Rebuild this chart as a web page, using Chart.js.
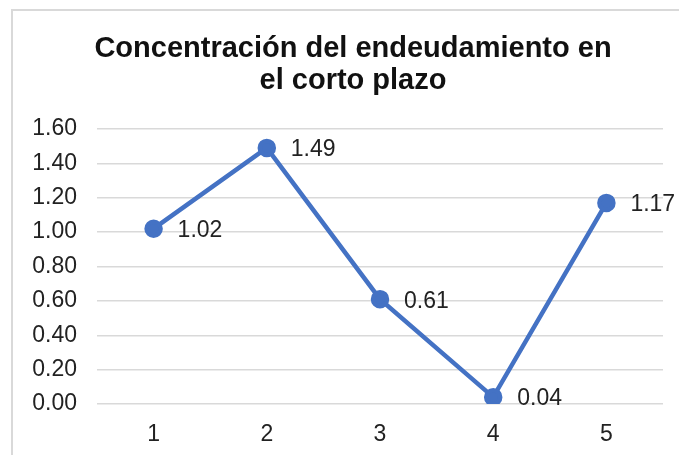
<!DOCTYPE html>
<html lang="es">
<head>
    <meta charset="UTF-8">
    <title>Concentración del endeudamiento en el corto plazo</title>
    <script src="https://cdn.jsdelivr.net/npm/chart.js"></script>
    <style>
        body { margin: 0; background: #fff; }
        #wrap { position: relative; width: 679px; height: 455px; overflow: hidden; }
        #frame { position: absolute; left: 11px; top: 9px; width: 700px; height: 480px; border: 2px solid #d9d9d9; box-sizing: border-box; }
        canvas { position: absolute; left: 0; top: 0; }
    </style>
</head>
<body>
    <div id="wrap">
        <div id="frame"></div>
        <canvas id="chart" width="679" height="455"></canvas>
    </div>

    <script>
        // Chart data
        const periods = ['1', '2', '3', '4', '5'];
        const ratios = [1.02, 1.49, 0.61, 0.04, 1.17];
        const titleLines = ['Concentración del endeudamiento en', 'el corto plazo'];

        const fontFamily = '"Liberation Sans", Arial, sans-serif';

        // title is centred a bit right of the canvas centre, like the original
        const titleBlock = {
            id: 'titleBlock',
            afterDraw(chart) {
                const ctx = chart.ctx;
                ctx.save();
                ctx.font = 'bold 29px ' + fontFamily;
                ctx.fillStyle = '#111';
                ctx.textAlign = 'center';
                ctx.textBaseline = 'alphabetic';
                titleLines.forEach((line, i) => ctx.fillText(line, 353, 57 + i * 32));
                ctx.restore();
            }
        };

        // draw the value next to each point
        const pointLabels = {
            id: 'pointLabels',
            afterDatasetsDraw(chart) {
                const ctx = chart.ctx;
                const meta = chart.getDatasetMeta(0);
                ctx.save();
                ctx.font = '23px ' + fontFamily;
                ctx.fillStyle = '#222';
                ctx.textAlign = 'left';
                ctx.textBaseline = 'middle';
                meta.data.forEach((pt, i) => {
                    ctx.fillText(ratios[i].toFixed(2), pt.x + 24, pt.y + 2);
                });
                ctx.restore();
            }
        };

        new Chart(document.getElementById('chart').getContext('2d'), {
            type: 'line',
            data: {
                labels: periods,
                datasets: [{
                    data: ratios,
                    borderColor: '#4472C4',
                    backgroundColor: '#4472C4',
                    borderWidth: 4.5,
                    pointRadius: 7,
                    pointHoverRadius: 7,
                    tension: 0,
                    fill: false
                }]
            },
            options: {
                responsive: false,
                animation: false,
                layout: { padding: { left: 0, right: 16, top: 129, bottom: 0 } },
                plugins: {
                    legend: { display: false },
                    tooltip: { enabled: false },
                    title: { display: false }
                },
                scales: {
                    x: {
                        offset: true,
                        grid: { display: false, drawTicks: false },
                        border: { display: false },
                        ticks: { color: '#222', font: { family: fontFamily, size: 23 }, padding: 17 },
                        afterFit(scale) { scale.height = 51; }
                    },
                    y: {
                        min: 0,
                        max: 1.6,
                        grid: { color: '#d9d9d9', lineWidth: 1.5, drawTicks: false },
                        border: { display: false },
                        ticks: {
                            stepSize: 0.2,
                            color: '#222',
                            font: { family: fontFamily, size: 23 },
                            padding: 20,
                            callback: v => v.toFixed(2)
                        },
                        afterFit(scale) { scale.width = 97; }
                    }
                }
            },
            plugins: [titleBlock, pointLabels]
        });
    </script>
</body>
</html>
